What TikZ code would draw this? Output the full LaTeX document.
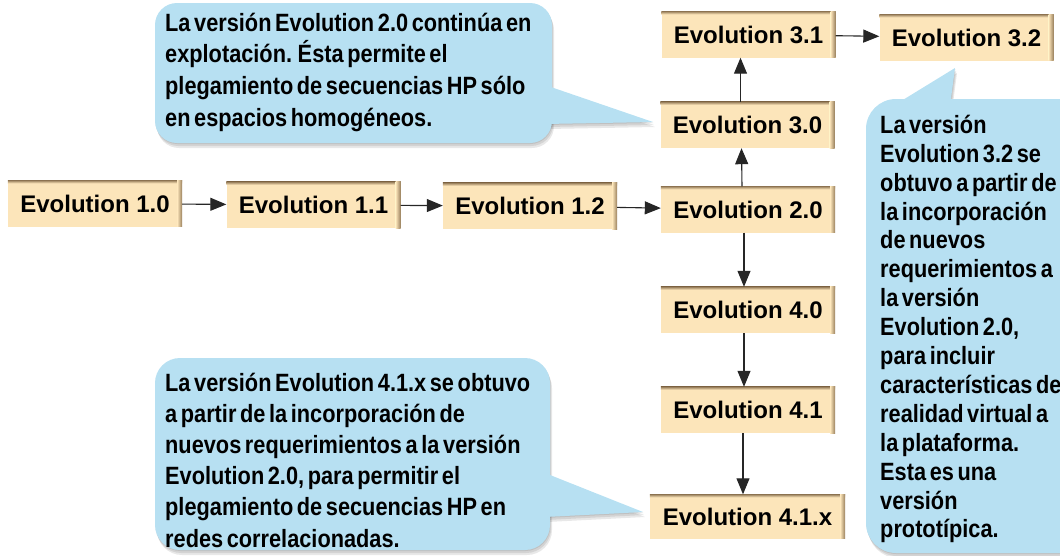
\documentclass[tikz,border=0pt]{standalone}
\usepackage{fontspec}
\setmainfont{Liberation Sans}
\newfontfamily\callfont{Liberation Sans}[FakeStretch=0.87,WordSpace=0.6]
\usetikzlibrary{arrows.meta}
\definecolor{boxfill}{RGB}{252,229,186}
\definecolor{bevel}{RGB}{150,125,90}
\definecolor{callfill}{RGB}{183,224,242}
\tikzset{
  evo/.style={rectangle, fill=boxfill, minimum width=174pt, minimum height=46pt,
    inner sep=0pt, font=\fontsize{24}{28}\selectfont\bfseries},
  link/.style={line width=1.1pt, draw=black!85, -{Triangle[length=16pt,width=13pt]}},
  ctext/.style={anchor=base west, inner sep=0pt,
    font=\callfont\fontsize{25}{28}\selectfont\bfseries, text=black},
  cfill/.style={fill=callfill},
  cshadow/.style={fill=black, opacity=0.09},
}
\newcommand\mylines[2]{\vtop{\baselineskip=#1\relax\lineskiplimit=-20pt #2}}
\newcommand\calloutshapes{%
  \path[rounded corners=22pt] (155,3) rectangle (552,143);
  \path (545,85) -- (653,122) -- (545,124) -- cycle;
  \path[rounded corners=25pt] (155,358) rectangle (550,550);
  \path (545,473) -- (643,512) -- (545,517) -- cycle;
  \path[rounded corners=30pt] (866,99) rectangle (1110,553);
  \path (893,106) -- (955,68) -- (950,106) -- cycle;
}
\begin{document}
\begin{tikzpicture}[x=1pt,y=-1pt]
\useasboundingbox (0,0) rectangle (1060,555);
% callout shadows
\foreach \d in {1,3,5} {
  \begin{scope}[shift={(\d*0.4,\d)}, every path/.style={cshadow}]
    \calloutshapes
  \end{scope}
}
% callout fills
\begin{scope}[every path/.style={cfill}]
  \calloutshapes
\end{scope}
% callout texts
\node[ctext] (tA) at (165,31) {\mylines{31.7pt}{%
  \hbox{La versión Evolution 2.0 continúa en}
  \hbox{explotación. Ésta permite el}
  \hbox{plegamiento de secuencias HP sólo}
  \hbox{en espacios homogéneos.}}};
\node[ctext] (tB) at (165,391) {\mylines{31.2pt}{%
  \hbox{La versión Evolution 4.1.x se obtuvo}
  \hbox{a partir de la incorporación de}
  \hbox{nuevos requerimientos a la versión}
  \hbox{Evolution 2.0, para permitir el}
  \hbox{plegamiento de secuencias HP en}
  \hbox{redes correlacionadas.}}};
\node[ctext] (tC) at (880,133.3) {\mylines{28.9pt}{%
  \hbox{La versión}
  \hbox{Evolution 3.2 se}
  \hbox{obtuvo a partir de}
  \hbox{la incorporación}
  \hbox{de nuevos}
  \hbox{requerimientos a}
  \hbox{la versión}
  \hbox{Evolution 2.0,}
  \hbox{para incluir}
  \hbox{características de}
  \hbox{realidad virtual a}
  \hbox{la plataforma.}
  \hbox{Esta es una}
  \hbox{versión}
  \hbox{prototípica.}}};
% boxes
\node[evo] (b10) at (95,203.5) {Evolution 1.0};
\node[evo] (b11) at (313.5,205) {Evolution 1.1};
\node[evo] (b12) at (530,206) {Evolution 1.2};
\node[evo] (b20) at (748,209.5) {Evolution 2.0};
\node[evo] (b30) at (747.5,125) {Evolution 3.0};
\node[evo] (b31) at (748.5,34.5) {Evolution 3.1};
\node[evo] (b32) at (966.5,37.5) {Evolution 3.2};
\node[evo] (b40) at (748,310) {Evolution 4.0};
\node[evo] (b41) at (748,410) {Evolution 4.1};
\node[evo, minimum width=195pt, minimum height=44pt] (b41x) at (747.5,516.5) {Evolution 4.1.x};
\foreach \n in {b10,b11,b12,b20,b30,b31,b32,b40,b41,b41x} {
  \shade[top color=bevel, bottom color=boxfill] (\n.north west) rectangle ([yshift=-3pt]\n.north east);
  \shade[left color=boxfill, right color=bevel] ([xshift=-5pt]\n.north east) rectangle (\n.south east);
}
% connectors
\draw[link] (b10) -- (b11);
\draw[link] (b11) -- (b12);
\draw[link] (b12) -- (b20);
\draw[link] ([xshift=-6pt]b20.north) -- ([xshift=-6pt]b30.south);
\draw[link] ([xshift=-7pt]b30.north) -- ([xshift=-8pt]b31.south);
\draw[link] (b31) -- (b32);
\draw[link] ([xshift=-4pt]b20.south) -- ([xshift=-4pt]b40.north);
\draw[link] ([xshift=-4pt]b40.south) -- ([xshift=-4pt]b41.north);
\draw[link] ([xshift=-5pt]b41.south) -- ([xshift=-4.5pt]b41x.north);
\end{tikzpicture}
\end{document}
